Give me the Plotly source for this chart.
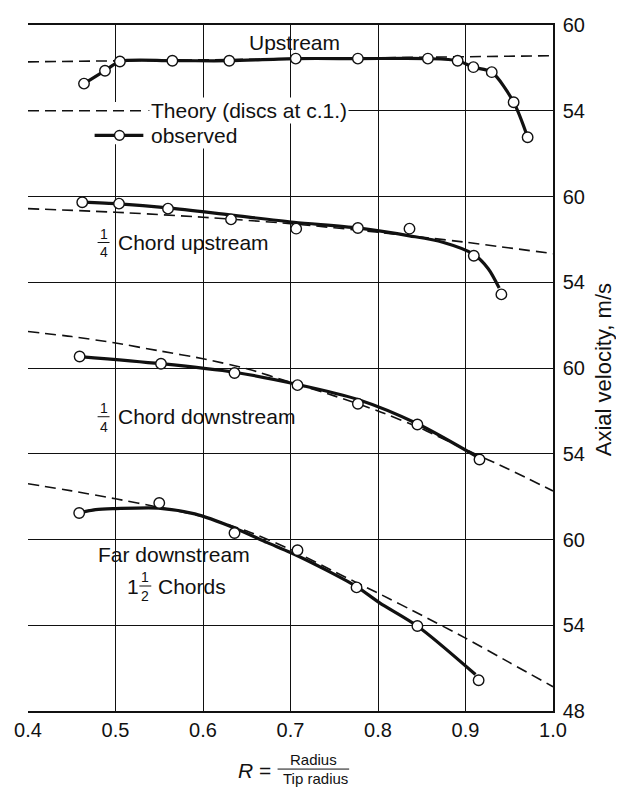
import plotly.graph_objects as go

# ---------------- data (velocities in m/s) ----------------
x_tick_vals = [0.4, 0.5, 0.6, 0.7, 0.8, 0.9, 1.0]
x_tick_text = ["0.4", "0.5", "0.6", "0.7", "0.8", "0.9", "1.0"]
y_tick_text = ["48", "54", "60", "54", "60", "54", "60", "54", "60"]

# Upstream
up_pts_r = [0.464, 0.488, 0.505, 0.565, 0.630, 0.706, 0.777, 0.857, 0.891, 0.909, 0.930, 0.955, 0.971]
up_pts_v = [55.9, 56.8, 57.45, 57.5, 57.5, 57.65, 57.65, 57.65, 57.5, 57.05, 56.7, 54.6, 52.15]
up_theory_r = [0.4, 1.0]
up_theory_v = [57.42, 57.85]

# 1/4 chord upstream
qu_pts_r = [0.462, 0.504, 0.560, 0.632, 0.7065, 0.777, 0.836, 0.9095, 0.941]
qu_pts_v = [59.6, 59.5, 59.15, 58.4, 57.75, 57.8, 57.75, 55.85, 53.15]
qu_curve_r = [0.462, 0.504, 0.560, 0.632, 0.704, 0.777, 0.836, 0.874, 0.9095, 0.926, 0.9385]
qu_curve_v = [59.6, 59.48, 59.2, 58.7, 58.2, 57.8, 57.25, 56.8, 55.95, 54.95, 53.6]
qu_theory_r = [0.4, 0.5, 0.6, 0.7, 0.8, 0.9, 1.0]
qu_theory_v = [59.15, 58.9, 58.55, 58.1, 57.5, 56.8, 56.0]

# 1/4 chord downstream
qd_pts_r = [0.459, 0.552, 0.636, 0.708, 0.777, 0.845, 0.916]
qd_pts_v = [60.8, 60.3, 59.65, 58.8, 57.5, 56.05, 53.6]
qd_curve_r = [0.459, 0.552, 0.636, 0.708, 0.777, 0.845, 0.913]
qd_curve_v = [60.8, 60.3, 59.7, 58.85, 57.8, 56.1, 53.8]
qd_theory_r = [0.40, 0.45, 0.50, 0.55, 0.60, 0.65, 0.70, 0.75, 0.80, 0.85, 0.90, 0.95, 1.00]
qd_theory_v = [62.55, 62.2, 61.75, 61.2, 60.65, 59.95, 59.0, 58.05, 57.0, 55.75, 54.3, 52.9, 51.4]

# Far downstream (1 1/2 chords)
fd_pts_r = [0.4585, 0.550, 0.636, 0.708, 0.7755, 0.845, 0.915]
fd_pts_v = [61.85, 62.55, 60.45, 59.25, 56.65, 53.95, 50.15]
fd_curve_r = [0.4585, 0.4774, 0.50, 0.549, 0.5906, 0.6358, 0.6736, 0.70, 0.7415, 0.7755, 0.8019, 0.8453, 0.9114]
fd_curve_v = [61.86, 62.09, 62.16, 62.2, 61.79, 60.81, 59.78, 59.09, 57.84, 56.71, 55.57, 53.93, 50.55]
fd_theory_r = [0.40, 0.45, 0.50, 0.55, 0.60, 0.65, 0.70, 0.75, 0.80, 0.85, 0.90, 0.95, 1.00]
fd_theory_v = [63.9, 63.4, 62.85, 62.25, 61.6, 60.6, 59.3, 57.75, 56.25, 54.7, 53.1, 51.4, 49.7]

# vertical stacking of the four panels (m/s added to each panel)
SHIFT_UP, SHIFT_QU, SHIFT_QD, SHIFT_FD = 36, 24, 12, 0

FONT = "Liberation Sans, Arial, Helvetica, sans-serif"
INK = "#111111"

# page geometry (the page body adds an 8 px margin)
BODY = 8
PL, PR, PT, PB = 25, 553, 14, 711   # plot area on the page


def sh(vals, s):
    return [v + s for v in vals]


def pxp(px):  # page x -> paper x
    return (px - PL) / (PR - PL)


def pyp(py):  # page y -> paper y
    return (PB - py) / (PB - PT)


fig = go.Figure()

dash_line = dict(color=INK, width=1.6, dash="11px,6px", shape="spline", smoothing=0.6)
obs_line = dict(color=INK, width=3.2, shape="spline", smoothing=0.8)
marker = dict(symbol="circle", size=10.5, color="white", line=dict(color=INK, width=1.4))

for r, v, s in [(up_theory_r, up_theory_v, SHIFT_UP), (qu_theory_r, qu_theory_v, SHIFT_QU),
                (qd_theory_r, qd_theory_v, SHIFT_QD), (fd_theory_r, fd_theory_v, SHIFT_FD)]:
    fig.add_trace(go.Scatter(x=r, y=sh(v, s), mode="lines", line=dash_line,
                             showlegend=False, hoverinfo="skip"))

for r, v, s in [(up_pts_r, up_pts_v, SHIFT_UP), (qu_curve_r, qu_curve_v, SHIFT_QU),
                (qd_curve_r, qd_curve_v, SHIFT_QD), (fd_curve_r, fd_curve_v, SHIFT_FD)]:
    fig.add_trace(go.Scatter(x=r, y=sh(v, s), mode="lines", line=obs_line,
                             showlegend=False, hoverinfo="skip"))

for r, v, s in [(up_pts_r, up_pts_v, SHIFT_UP), (qu_pts_r, qu_pts_v, SHIFT_QU),
                (qd_pts_r, qd_pts_v, SHIFT_QD), (fd_pts_r, fd_pts_v, SHIFT_FD)]:
    fig.add_trace(go.Scatter(x=r, y=sh(v, s), mode="markers", marker=marker,
                             showlegend=False, hoverinfo="skip", cliponaxis=False))

shapes = []
annotations = []


def txt(text, px, py, size=21, xanchor="center", yanchor="middle", bg=None, **kw):
    d = dict(text=text, x=pxp(px), y=pyp(py), xref="paper", yref="paper", showarrow=False,
             font=dict(family=FONT, size=size, color=INK), xanchor=xanchor, yanchor=yanchor)
    if bg:
        d.update(bgcolor=bg, borderpad=1)
    d.update(kw)
    annotations.append(d)


def hline(px0, px1, py, width=1.0, dash=None):
    ln = dict(color=INK, width=width)
    if dash:
        ln["dash"] = dash
    shapes.append(dict(type="line", xref="paper", yref="paper", x0=pxp(px0), x1=pxp(px1),
                       y0=pyp(py), y1=pyp(py), line=ln, layer="above"))


def wrect(px0, px1, py0, py1):
    shapes.append(dict(type="rect", xref="paper", yref="paper", x0=pxp(px0), x1=pxp(px1),
                       y0=pyp(py1), y1=pyp(py0), fillcolor="white", line=dict(width=0),
                       layer="above"))


# ---- legend (inside the upstream panel, centred on its 54 grid line) ----
row1 = PT + (PB - PT) / 8          # page y of the 54 line of the top panel
row2 = row1 + 25
wrect(PL, 146, row1 - 9, row2 + 9)
wrect(146, 240, row1, row2 + 9)
hline(PL, 142, row1, width=1.6, dash="11px,6px")
txt("Theory (discs at c.1.)", 147, row1, xanchor="left", bg="white")
hline(92, 141, row2, width=3.2)
shapes.append(dict(type="circle", xref="paper", yref="paper",
                   x0=pxp(112), x1=pxp(122), y0=pyp(row2 + 5), y1=pyp(row2 - 5),
                   fillcolor="white", line=dict(color=INK, width=1.4), layer="above"))
txt("observed", 147, row2, xanchor="left", bg="white")

# ---- panel labels ----
txt("Upstream", 293, 32)


def frac_label(pxc, pyc, num, den, size=14, half=6):
    txt(num, pxc, pyc - 9, size=size)
    txt(den, pxc, pyc + 10, size=size)
    hline(pxc - half, pxc + half, pyc, width=1.0)


frac_label(101, 235, "1", "4")
txt("Chord upstream", 114, 235, xanchor="left")
frac_label(101, 412, "1", "4")
txt("Chord downstream", 114, 412, xanchor="left")
txt("Far downstream", 172, 552)
txt("1", 131, 584)
frac_label(143, 584, "1", "2")
txt("Chords", 154, 584, xanchor="left")

# ---- axis titles ----
txt("Axial velocity, m/s", 604, 364, size=22, textangle=-90)
txt("<i>R</i> =", 253, 771, size=21)
txt("Radius", 312, 760, size=15)
txt("Tip radius", 314, 780, size=15)
hline(276, 348, 770, width=1.0)

fig.update_layout(
    width=624, height=787,
    margin=dict(l=PL - BODY, r=624 - (PR - BODY), t=PT - BODY, b=787 - (PB - BODY)),
    paper_bgcolor="white", plot_bgcolor="white",
    font=dict(family=FONT, size=20, color=INK),
    shapes=shapes, annotations=annotations,
    showlegend=False,
    xaxis=dict(range=[0.4, 1.0], tickmode="array", tickvals=x_tick_vals, ticktext=x_tick_text,
               showgrid=False, zeroline=False, showline=True, linecolor=INK, linewidth=1.5,
               mirror=True, ticks="", ticklabelstandoff=0, tickfont=dict(size=20),
               ticklabeloverflow="allow",
               minor=dict(tickmode="array", tickvals=x_tick_vals[1:-1], showgrid=True,
                          gridcolor=INK, gridwidth=1.1, ticks="")),
    yaxis=dict(range=[48, 96], side="right", tickmode="array",
               tickvals=[48 + 6 * i for i in range(9)], ticktext=y_tick_text,
               showgrid=True, gridcolor=INK, gridwidth=1.1, zeroline=False,
               showline=True, linecolor=INK, linewidth=1.5, ticks="",
               ticklabelstandoff=4, tickfont=dict(size=20), ticklabeloverflow="allow"),
)

fig.write_html("out.html")
